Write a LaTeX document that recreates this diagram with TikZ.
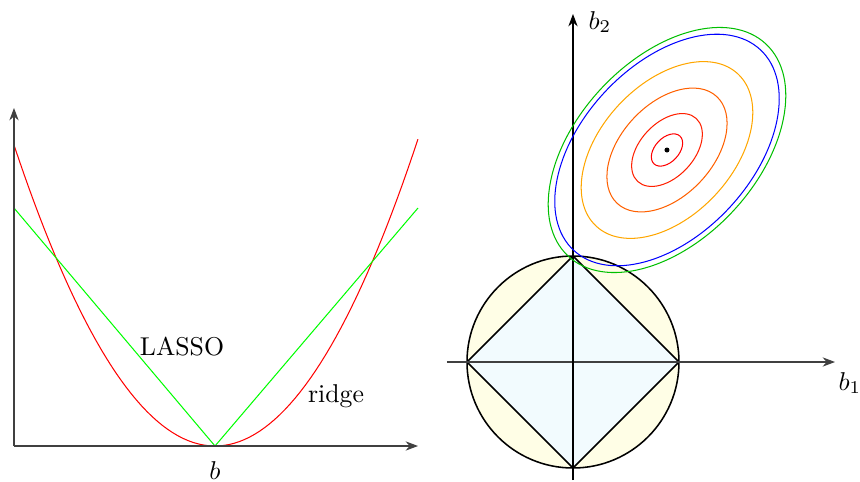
\documentclass[tikz,border=0pt]{standalone}
\usetikzlibrary{arrows.meta}
\tikzstyle{axis} = [black!75, ->, >=Stealth]
\tikzstyle{contour} = [thin]

\begin{document}
\begin{tikzpicture}[x=1.364cm, y=1.364cm]
    \useasboundingbox (0,0) rectangle (8.6,4.81);

    % Points (left panel)
    \coordinate (O1) at (0.14,0.35);
    \coordinate (X1) at (4.18,0.35);
    \coordinate (Y1) at (0.14,3.73);
    \coordinate (V) at (2.15,0.35); % minimum
    \coordinate (GreenL) at (0.14,2.73);
    \coordinate (GreenR) at (4.18,2.73);

    % Penalty curves
    \draw[red, domain=0.14:4.18, samples=80] plot (\x, {0.35+0.745*(\x-2.15)^2});
    \draw[green] (GreenL) -- (V) -- (GreenR);

    % Axes
    \draw[axis] (O1) -- (X1);
    \draw[axis] (O1) -- (Y1);

    % Labels
    \node (lasso) at (1.82,1.34) {LASSO};
    \node (ridge) at (3.36,0.85) {ridge};
    \node[below=2.5pt] (b) at (V) {$b$};

    % Points (right panel)
    \coordinate (O2) at (5.73,1.19);
    \coordinate (Top) at (5.73,2.25);
    \coordinate (Right) at (6.79,1.19);
    \coordinate (Bot) at (5.73,0.13);
    \coordinate (Left) at (4.67,1.19);
    \coordinate (C) at (6.67,3.31); % least squares estimate

    % Constraint regions
    \filldraw[fill=yellow!10, semithick] (O2) circle (1.06);
    \filldraw[fill=cyan!5, semithick] (Top) -- (Right) -- (Bot) -- (Left) -- cycle;

    % Axes
    \draw[axis] (4.47,1.19) coordinate (X2a) -- (8.35,1.19) coordinate (X2b);
    \draw[axis, black] (5.73,0.01) coordinate (Y2a) -- (5.73,4.67) coordinate (Y2b);
    \node (b1) at (8.50,0.98) {$b_1$};
    \node (b2) at (6.00,4.59) {$b_2$};

    % Contours
    \foreach \ra/\rb/\col in {0.19/0.12/red, 0.43/0.27/red!75!orange,
        0.73/0.46/orange!75!red, 1.04/0.66/orange!70!yellow, 1.37/0.85/blue,
        1.45/0.90/green!75!black}
        \draw[contour, \col, rotate around={47:(C)}] (C) ellipse ({\ra} and {\rb});
    \fill (C) circle (0.025);

\end{tikzpicture}
\end{document}
